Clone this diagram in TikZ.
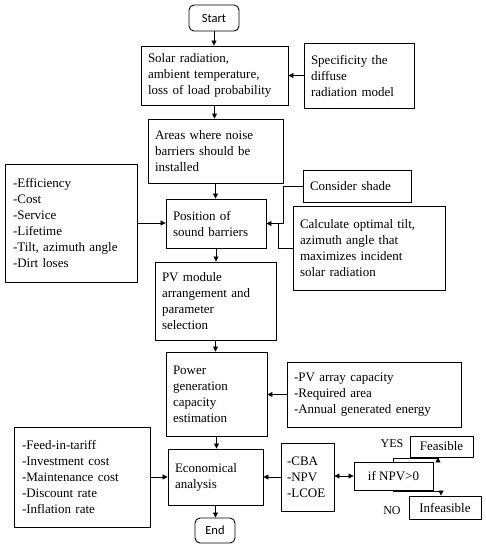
\documentclass[tikz,border=0pt]{standalone}
\usepackage{fontspec}
\setmainfont{Liberation Serif}
\newfontfamily\capfont{Carlito}
\usetikzlibrary{arrows.meta}

\begin{document}
\begin{tikzpicture}[x=1pt, y=-1pt,
  box/.style={draw, line width=0.9pt, align=left, inner xsep=7pt, inner ysep=2pt, font=\fontsize{13}{16}\selectfont},
  term/.style={draw, line width=0.9pt, rounded corners=5pt, inner sep=2pt, font=\capfont\fontsize{12.5}{14}\selectfont},
  tag/.style={inner sep=1pt, font=\fontsize{12}{14}\selectfont},
  arr/.style={line width=0.8pt, -{Triangle[length=5pt,width=5pt]}},
  darr/.style={line width=0.8pt, {Triangle[length=5pt,width=5pt]}-{Triangle[length=5pt,width=5pt]}}]
  \useasboundingbox (0,0) rectangle (486,550);
  \node[term, minimum width=50, minimum height=26] (start) at (214,18) {Start};
  \node[box, text width=133, minimum height=59] (solar) at (214.5,75.5) {Solar radiation,\\ambient temperature,\\loss of load probability};
  \node[box, text width=96, minimum height=65] (spec) at (359,75.5) {Specificity the\\diffuse\\radiation model};
  \node[box, text width=121, minimum height=64] (areas) at (215.5,151) {Areas where noise\\barriers should be\\installed};
  \node[box, text width=116, inner xsep=8pt, minimum height=118] (factors) at (71,223) {-Efficiency\\-Cost\\-Service\\-Lifetime\\-Tilt, azimuth angle\\-Dirt loses};
  \node[box, text width=86, minimum height=49] (position) at (216,223.5) {Position of\\sound barriers};
  \node[box, text width=94, minimum height=32] (shade) at (357,186) {Consider shade};
  \node[box, text width=138, minimum height=84] (tilt) at (369,248) {Calculate optimal tilt,\\azimuth angle that\\maximizes incident\\solar radiation};
  \node[box, text width=107, minimum height=78] (arrange) at (215.5,301) {PV module\\arrangement and\\parameter\\selection};
  \node[box, text width=87, minimum height=84] (power) at (216.5,394) {Power\\generation\\capacity\\estimation};
  \node[box, text width=160, minimum height=65] (output) at (374,394.5) {-PV array capacity\\-Required area\\-Annual generated energy};
  \node[box, text width=120, inner xsep=8pt, minimum height=100] (costs) at (82,477) {-Feed-in-tariff\\-Investment cost\\-Maintenance cost\\-Discount rate\\-Inflation rate};
  \node[box, text width=81, minimum height=56] (econ) at (215.5,477) {Economical\\analysis};
  \node[term, minimum width=40, minimum height=25] (stop) at (215,530.5) {End};
  \node[box, text width=41, inner xsep=6pt, minimum height=68] (indic) at (307.5,477) {-CBA\\-NPV\\-LCOE};
  \node[box, align=center, minimum width=79, minimum height=28] (npv) at (393.5,476) {if NPV>0};
  \node[box, align=center, inner xsep=3pt, minimum width=63, minimum height=21] (feas) at (441.5,446.5) {Feasible};
  \node[box, align=center, inner xsep=3pt, minimum width=72, minimum height=23] (infeas) at (445,507.5) {Infeasible};
  \node[tag] (yes) at (392,444) {YES};
  \node[tag] (no) at (392,511) {NO};
  \coordinate (yesx) at (438,0);
  \coordinate (nox) at (441,0);

  \draw[arr] (start.south) -- (start.south |- solar.north);
  \draw[arr] (solar.south) -- (solar.south |- areas.north);
  \draw[arr] (areas.south) -- (areas.south |- position.north);
  \draw[arr] (position.south) -- (position.south |- arrange.north);
  \draw[arr] (arrange.south) -- (arrange.south |- power.north);
  \draw[arr] (power.south) -- (power.south |- econ.north);
  \draw[arr] (econ.south) -- (econ.south |- stop.north);
  \draw[arr] (spec.west) -- (spec.west -| solar.east);
  \draw[arr] (factors.east) -- (factors.east -| position.west);
  \draw[arr] (shade.west) -- ++(-19,0) |- (position.east);
  \draw[line width=0.8pt] (tilt.west) -- ++(-14,0) |- (position.east);
  \draw[arr] (output.west) -- (output.west -| power.east);
  \draw[arr] (costs.east) -- (costs.east -| econ.west);
  \draw[arr] (indic.west) -- (indic.west -| econ.east);
  \draw[darr] (npv.west -| indic.east) -- (npv.west);
  \draw[arr] (npv.north) -- ++(0,-3) -| (feas.south -| yesx);
  \draw[arr] (npv.south) -- ++(0,1) -| (infeas.north -| nox);
\end{tikzpicture}
\end{document}
